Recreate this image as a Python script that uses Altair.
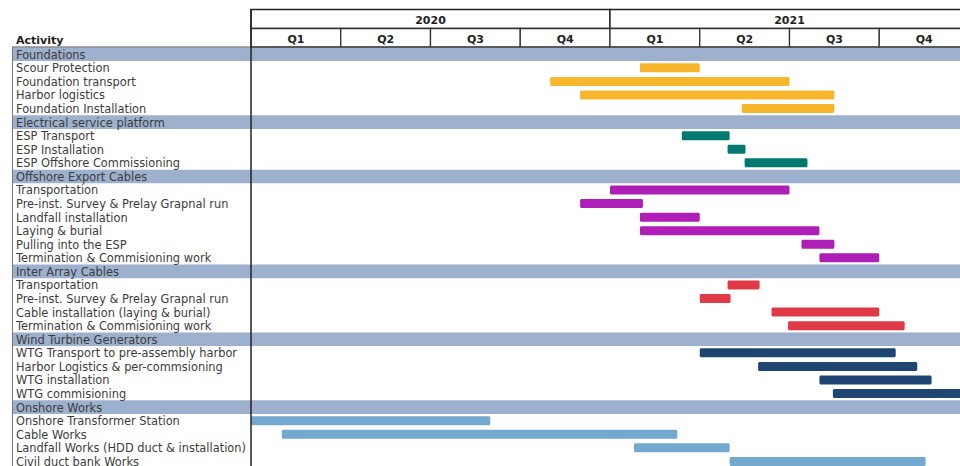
import altair as alt
import pandas as pd

# ---------------- data ----------------
activities = [
    "Foundations", "Scour Protection", "Foundation transport", "Harbor logistics", "Foundation Installation",
    "Electrical service platform", "ESP Transport", "ESP Installation", "ESP Offshore Commissioning",
    "Offshore Export Cables", "Transportation", "Pre-inst. Survey & Prelay Grapnal run", "Landfall installation",
    "Laying & burial", "Pulling into the ESP", "Termination & Commisioning work",
    "Inter Array Cables", "Transportation", "Pre-inst. Survey & Prelay Grapnal run",
    "Cable installation (laying & burial)", "Termination & Commisioning work",
    "Wind Turbine Generators", "WTG Transport to pre-assembly harbor", "Harbor Logistics & per-commsioning",
    "WTG installation", "WTG commisioning",
    "Onshore Works", "Onshore Transformer Station", "Cable Works",
    "Landfall Works (HDD duct & installation)", "Civil duct bank Works",
]
header_rows = [0, 5, 9, 16, 21, 26]

# start / end in months from Jan 2020 (None for section headers)
starts = [None, 13.0, 10.0, 11.0, 16.4,
          None, 14.4, 15.93, 16.5,
          None, 12.0, 11.0, 13.0, 13.0, 18.4, 19.0,
          None, 15.93, 15.0, 17.4, 17.95,
          None, 15.0, 16.95, 19.0, 19.45,
          None, 0.0, 1.03, 12.8, 16.0]
ends = [None, 15.0, 18.0, 19.5, 19.5,
        None, 16.0, 16.53, 18.6,
        None, 18.0, 13.1, 15.0, 19.0, 19.5, 21.0,
        None, 17.0, 16.03, 21.0, 21.85,
        None, 21.55, 22.27, 22.75, 24.3,
        None, 8.0, 14.25, 16.0, 22.55]

groups = ["Foundations", "Electrical service platform", "Offshore Export Cables",
          "Inter Array Cables", "Wind Turbine Generators", "Onshore Works"]
group_colors = ["#F8B62D", "#00796F", "#AE1FB7", "#E03A48", "#1F4672", "#74A9CF"]

years = ["2020", "2021"]
year_start = [0, 12]
year_end = [12, 24]
quarters = ["Q1", "Q2", "Q3", "Q4", "Q1", "Q2", "Q3", "Q4"]
quarter_start = [0, 3, 6, 9, 12, 15, 18, 21]
quarter_end = [3, 6, 9, 12, 15, 18, 21, 24]

# ---------------- tables ----------------
rows = []
current = None
for i, lab in enumerate(activities):
    is_h = i in header_rows
    if is_h:
        current = lab
    rows.append({"row": i, "label": lab, "header": is_h, "group": current,
                 "start": starts[i], "end": ends[i]})
df = pd.DataFrame(rows)
df_head = df[df["header"]]
df_tasks = df[~df["header"]]

df_years = pd.DataFrame({"label": years, "s": year_start, "e": year_end})
df_years["mid"] = (df_years["s"] + df_years["e"]) / 2
df_q = pd.DataFrame({"label": quarters, "s": quarter_start, "e": quarter_end})
df_q["mid"] = (df_q["s"] + df_q["e"]) / 2

# ---------------- scales ----------------
FONT = "DejaVu Sans"
xs = alt.Scale(domain=[0, 24], range=[251, 969], zero=False, nice=False)
ROW_TOP = 47.5
PITCH = 13.57
ys = alt.Scale(domain=list(range(len(activities))),
               range=[ROW_TOP, ROW_TOP + PITCH * len(activities)],
               paddingInner=0, paddingOuter=0)
Y = alt.Y("row:O", scale=ys, axis=None)

bands = alt.Chart(df_head).mark_rect(color="#9DB0CD").encode(
    x=alt.value(12), x2=alt.value(960), y=Y
)

labels = alt.Chart(df).mark_text(
    align="left", baseline="middle", font=FONT, fontSize=11.4, color="#3c3c3c", dy=1.5
).encode(x=alt.value(16), y=Y, text="label:N")

bars = alt.Chart(df_tasks).mark_bar(size=9, cornerRadius=1.5).encode(
    x=alt.X("start:Q", scale=xs, axis=None),
    x2="end:Q",
    y=Y,
    color=alt.Color("group:N", scale=alt.Scale(domain=groups, range=group_colors), legend=None),
)

year_box = alt.Chart(df_years).mark_rect(fill="white", stroke="#222222", strokeWidth=1.4).encode(
    x=alt.X("s:Q", scale=xs, axis=None), x2="e:Q", y=alt.value(9.5), y2=alt.value(28.5)
)
q_box = alt.Chart(df_q).mark_rect(fill="white", stroke="#333333", strokeWidth=1.3).encode(
    x=alt.X("s:Q", scale=xs, axis=None), x2="e:Q", y=alt.value(28.5), y2=alt.value(47)
)
year_text = alt.Chart(df_years).mark_text(
    font=FONT, fontSize=11, fontWeight="bold", color="#222222", baseline="middle"
).encode(x=alt.X("mid:Q", scale=xs, axis=None), y=alt.value(20.5), text="label:N")
q_text = alt.Chart(df_q).mark_text(
    font=FONT, fontSize=11, fontWeight="bold", color="#222222", baseline="middle"
).encode(x=alt.X("mid:Q", scale=xs, axis=None), y=alt.value(39.5), text="label:N")

activity_title = alt.Chart(pd.DataFrame({"t": ["Activity"]})).mark_text(
    font=FONT, fontSize=11, fontWeight="bold", color="#222222", align="left", baseline="middle"
).encode(x=alt.value(16), y=alt.value(40.5), text="t:N")

top_band_line = alt.Chart(pd.DataFrame({"a": [0]})).mark_rule(color="#555555", strokeWidth=1).encode(
    x=alt.value(12), x2=alt.value(960), y=alt.value(47)
)
left_line = alt.Chart(pd.DataFrame({"a": [0]})).mark_rule(color="#777777", strokeWidth=1).encode(
    x=alt.value(12.5), y=alt.value(47), y2=alt.value(470)
)
divider = alt.Chart(pd.DataFrame({"a": [0]})).mark_rule(color="#222222", strokeWidth=1.5).encode(
    x=alt.value(251), y=alt.value(9), y2=alt.value(470)
)

chart = alt.layer(
    bands, labels, bars, year_box, q_box, year_text, q_text, activity_title,
    top_band_line, left_line, divider
).properties(
    width=960, height=466, padding=0, autosize="none"
).configure_view(stroke=None)

chart.save("out.html", embed_options={"renderer": "svg", "actions": False})
